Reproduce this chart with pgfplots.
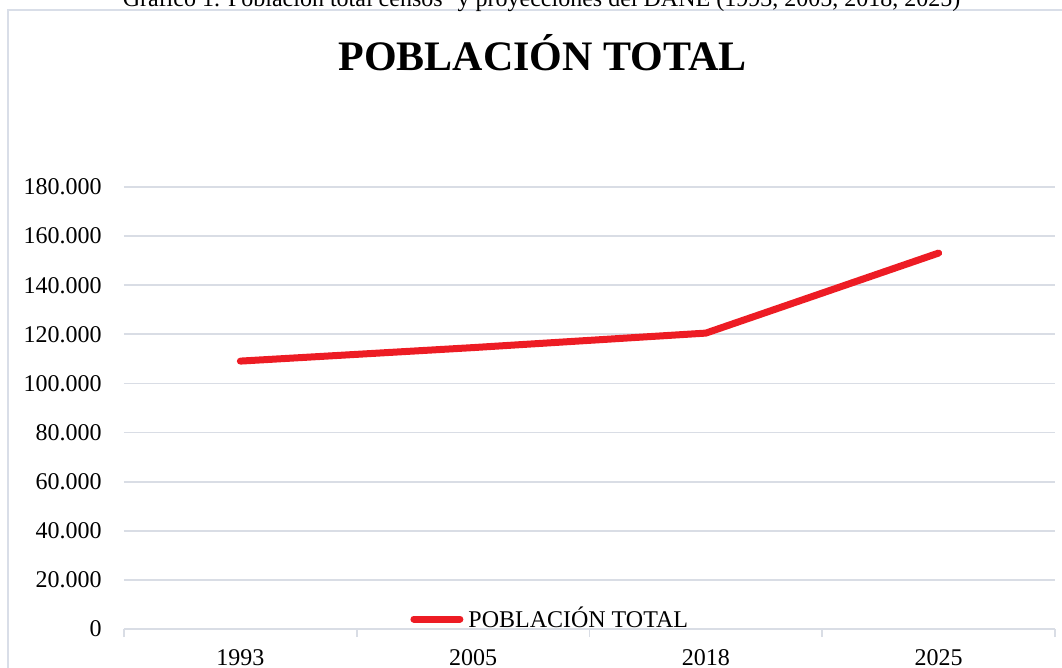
\documentclass[border=0pt]{standalone}
\usepackage{fontspec}
\setmainfont{Liberation Serif}
\usepackage{pgfplots}
\pgfplotsset{compat=1.18}
\definecolor{linered}{RGB}{237,28,36}
\definecolor{gridc}{RGB}{217,221,229}
\definecolor{borderc}{RGB}{217,222,232}
\begin{document}
\begin{tikzpicture}
\useasboundingbox (0,0) rectangle (531pt,-334pt);
\draw[borderc, line width=0.9pt] (4pt,-5pt) rectangle (540pt,-345pt);
\node[anchor=base, inner sep=0pt, font=\fontsize{12}{14}\selectfont] at (270.75pt,-3.3pt) {Gráfico 1. Población total censos\textsuperscript{1} y proyecciones del DANE (1993, 2005, 2018, 2025)};
\node[anchor=base, inner sep=0pt, font=\fontsize{21}{25}\selectfont\bfseries] at (271.25pt,-35.5pt) {POBLACIÓN TOTAL};
\begin{axis}[
  at={(62pt,-314.5pt)}, anchor=south west,
  scale only axis, width=465.5pt, height=221pt,
  xmin=-0.5, xmax=3.5, ymin=0, ymax=180000,
  axis x line*=bottom, axis y line*=left,
  x axis line style={-, draw=gridc, line width=0.9pt},
  y axis line style={draw=none},
  xtick={0,1,2,3}, xticklabels={1993,2005,2018,2025},
  major tick length=0pt,
  extra x ticks={-0.5,0.5,1.5,2.5,3.5},
  extra x tick labels={},
  extra x tick style={grid=none, major tick length=4pt, tick align=outside, tick style={draw=gridc, line width=0.9pt}},
  ytick={0,20000,...,180000},
  ytick style={draw=none},
  ymajorgrids, grid style={gridc, line width=0.9pt},
  scaled y ticks=false,
  /pgf/number format/fixed,
  /pgf/number format/precision=0,
  /pgf/number format/1000 sep={.},
  /pgf/number format/assume math mode=true,
  tick label style={font=\fontsize{12}{14}\selectfont},
  yticklabel style={anchor=east, inner sep=0pt, xshift=-11pt},
  xticklabel style={anchor=north, inner sep=0pt, yshift=-10pt},
  legend style={at={(rel axis cs:0.3072,0.0226)}, anchor=west, draw=none, fill=none, inner sep=0pt,
    font=\fontsize{12}{14}\selectfont, nodes={inner sep=0pt}, column sep=2.5pt},
  legend cell align=left,
  legend image code/.code={\draw[#1,line cap=round] (1.75pt,0pt) -- (24.75pt,0pt);},
]
\addplot[linered, line width=3.5pt, line cap=round, line join=round]
  coordinates {(0,109100) (1,114600) (2,120500) (3,153100)};
\addlegendentry{POBLACIÓN TOTAL}
\end{axis}
\end{tikzpicture}
\end{document}
